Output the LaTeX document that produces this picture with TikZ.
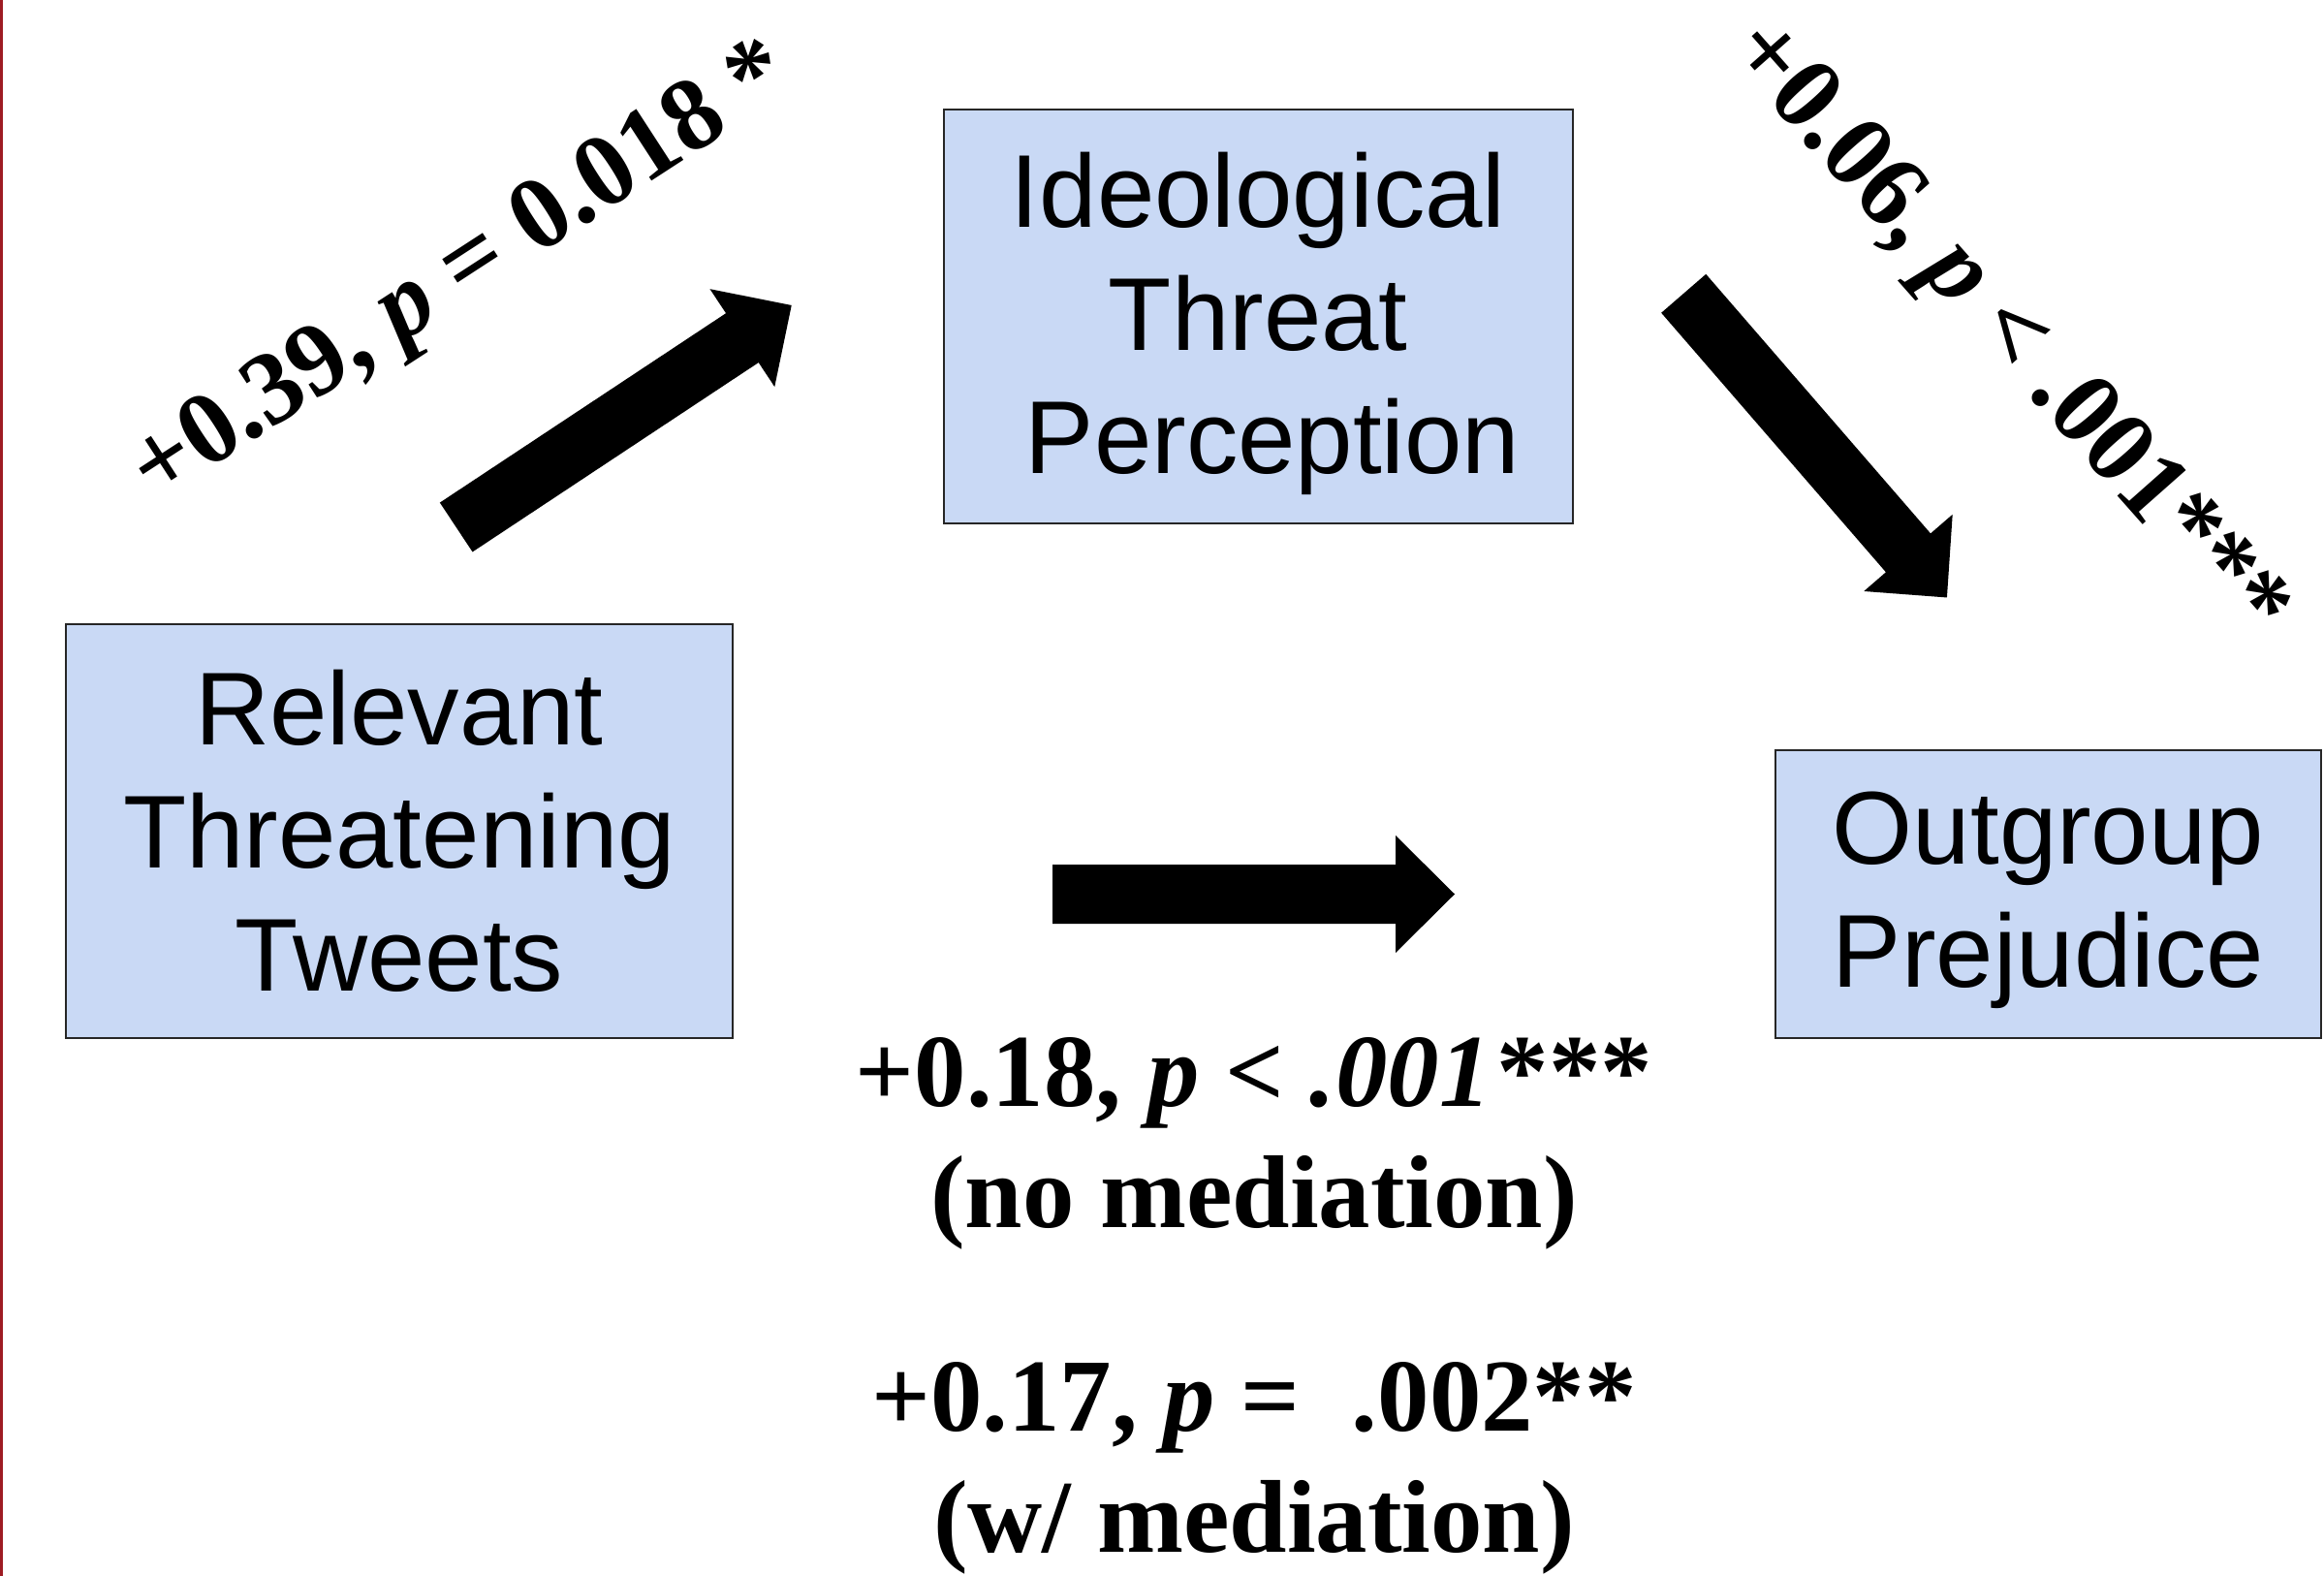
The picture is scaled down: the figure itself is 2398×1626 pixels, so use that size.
\documentclass[tikz,border=0pt]{standalone}
\usepackage{fontspec}
\setmainfont{Liberation Serif}
\newfontfamily\arialfont{Liberation Sans}
\definecolor{boxblue}{RGB}{201,217,245}
\definecolor{edgered}{RGB}{158,27,35}
\begin{document}
\begin{tikzpicture}[x=0.25pt,y=-0.25pt,
  box/.style={draw=black!85, line width=0.5pt, fill=boxblue, inner sep=0pt},
  boxtext/.style={inner sep=0pt, align=center,
    font=\arialfont\fontsize{26.7}{31.75}\selectfont},
  lbl/.style={inner sep=0pt, font=\bfseries\fontsize{26.7}{31.25}\selectfont},
  blockarrow/.pic={\fill[black] (0,-30.5) -- (354,-30.5) -- (354,-60.5) -- (415,0) -- (354,60.5) -- (354,30.5) -- (0,30.5) -- cycle;}]
\useasboundingbox (0,0) rectangle (2398,1626);
\fill[white] (0,0) rectangle (2398,1626);
\fill[edgered] (0,0) rectangle (3,1626);

\node[box, minimum width=172pt, minimum height=106.75pt] (rtt) at (412,857.5) {};
\node[box, minimum width=162.15pt, minimum height=106.75pt] (itp) at (1298.3,326.5) {};
\node[box, minimum width=140.75pt, minimum height=74.25pt] (ogp) at (2113.5,922.5) {};

\node[boxtext] (rtt-t) at (rtt.center) {Relevant\\Threatening\\Tweets};
\node[boxtext] (itp-t) at ([yshift=-1.9pt]itp.center) {Ideological\\Threat\\\hspace*{0.278em}Perception};
\node[boxtext] (ogp-t) at ([yshift=-1.5pt]ogp.center) {Outgroup\\Prejudice};

\pic[rotate=33.5] (a1) at (470.7,544) {blockarrow};
\pic[rotate=-49.1] (a2) at (1737.2,302.8) {blockarrow};
\pic (a3) at (1086,922.5) {blockarrow};

\node[lbl, rotate=33, anchor=base] (l1) at (491,305) {+0.39, \textit{p} = 0.018 *};
\node[lbl, rotate=-48.5, anchor=base] (l2) at (2051,360) {+0.06, \textit{p} < .001***};
\node[lbl, anchor=base] (l3) at (1294,1141) {+0.18, \textit{p} < \textit{.001}\kern0.06em***};
\node[lbl, anchor=base] (l4) at (1294,1266) {(no mediation)};
\node[lbl, anchor=base] (l5) at (1294,1476) {+0.17, \textit{p} =\ \ .002**};
\node[lbl, anchor=base] (l6) at (1294,1601) {(w/ mediation)};
\end{tikzpicture}
\end{document}
